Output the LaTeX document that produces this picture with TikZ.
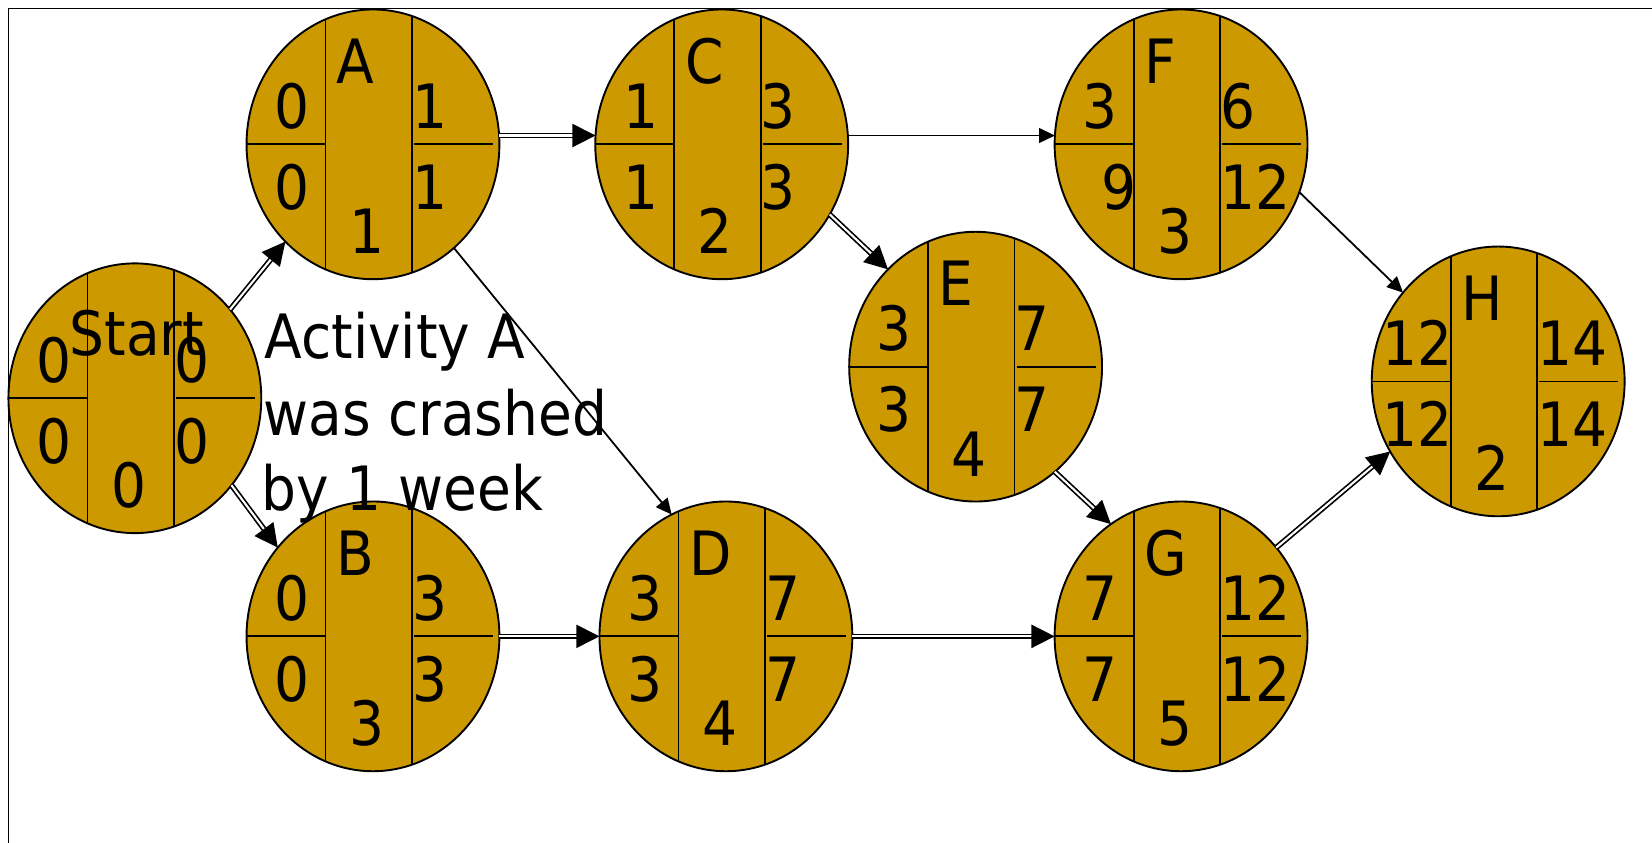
\documentclass[tikz,border=0pt]{standalone}
\usepackage{fontspec}
\setmainfont[FakeStretch=0.9]{DejaVu Sans}
\usetikzlibrary{shapes.geometric,arrows.meta,calc}
\definecolor{actfill}{HTML}{CC9900}
\tikzset{
  actnode/.style={ellipse, draw=black, line width=1.8pt, fill=actfill,
    minimum width=240pt, minimum height=256pt, inner sep=0pt, outer sep=0pt},
  divline/.style={line width=1.7pt},
  lbl/.style={inner sep=0pt, font=\fontsize{58}{70}\selectfont},
  crit/.style={double, double distance=2pt, line width=1.6pt,
    -{Triangle[length=22pt,width=22pt]}},
  plain/.style={line width=1.7pt, -{Triangle[length=15pt,width=14pt]}},
}
% activity node: name, x, y, ES, LS, LS x-offset, EF, LF, duration
\newcommand\pertnode[9]{%
  \begin{scope}[shift={(#2,#3)}]
    \node[actnode] (#1) at (0,0) {};
    \draw[divline] (-45,-119) -- (-45,119) (37,-122) -- (37,122)
      (-120,0) -- (-45,0) (39,0) -- (114,0);
    \node[lbl,anchor=base] (#1-es) at (-77,-15) {#4};
    \node[lbl,anchor=base] (#1-ls) at (#6,62) {#5};
    \node[lbl,anchor=base west] (#1-ef) at (37,-15) {#7};
    \node[lbl,anchor=base west] (#1-lf) at (37,62) {#8};
    \node[lbl,anchor=base] (#1-dur) at (-6,104) {#9};
  \end{scope}}
\begin{document}
\begin{tikzpicture}[x=1pt,y=-1pt]
\useasboundingbox (0,0) rectangle (1568,800);
\draw[line width=1.7pt] (8,800) -- (8,8) -- (1568,8);

\pertnode{Start}{128}{378}{0}{0}{-77}{0}{0}{0}
\pertnode{A}{354}{137}{0}{0}{-77}{1}{1}{1}
\pertnode{B}{354}{604}{0}{0}{-77}{3}{3}{3}
\pertnode{C}{685}{137}{1}{1}{-77}{3}{3}{2}
\pertnode{D}{689}{604}{3}{3}{-77}{7}{7}{4}
\pertnode{E}{926}{348}{3}{3}{-77}{7}{7}{4}
\pertnode{F}{1121}{137}{3}{9}{-59}{6}{12}{3}
\pertnode{G}{1121}{604}{7}{7}{-77}{12}{12}{5}
\pertnode{H}{1422}{362}{12}{12}{-77}{14}{14}{2}

% activity letters
\foreach \n in {A,B,C,D,E,F,G,H}
  \node[lbl,anchor=base west] (\n-name) at ($(\n)+(-35,-58)$) {\n};
\node[lbl,anchor=base west] (Start-name) at ($(Start)+(-62,-41)$) {Start};

% connectors
\draw[crit] (Start.43) -- (A.228);
\draw[crit] (Start.318) -- (B.137);
\draw[crit] (A.4) -- (C.176);
\draw[plain] (A.308) -- (D.114);
\draw[crit] (B.east) -- (D.west);
\draw[plain] (C.4) -- (F.176);
\draw[crit] (C.327) -- (E.132);
\draw[crit] (D.east) -- (G.west);
\draw[crit] (E.307) -- (G.122);
\draw[plain] (F.338) -- (H.137);
\draw[crit] (G.43) -- (H.213);

% note
\node[lbl,anchor=base west] (note1) at (251,340) {Activity A};
\node[lbl,anchor=base west] (note2) at (250,413) {was crashed};
\node[lbl,anchor=base west] (note3) at (248,485) {by 1 week};
\end{tikzpicture}
\end{document}
